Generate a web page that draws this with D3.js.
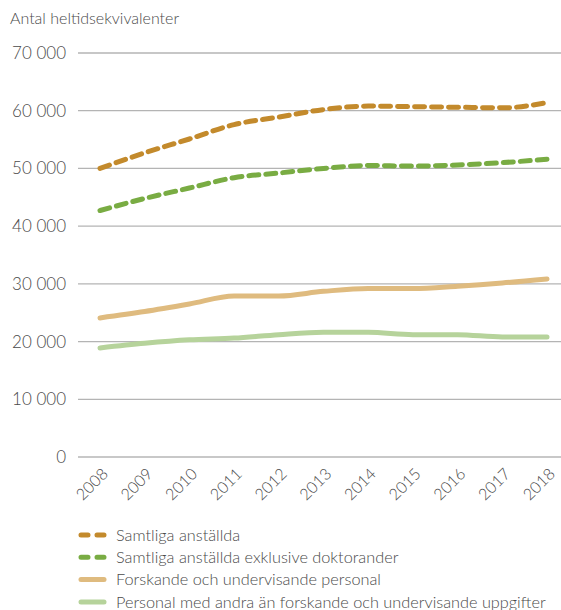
<!DOCTYPE html>
<html>
<head>
<meta charset="utf-8">
<title>Antal heltidsekvivalenter</title>
<script src="https://d3js.org/d3.v7.min.js"></script>
<style>
body { margin: 0; background: #fff; }
svg text { font-family: Lato, "Open Sans", sans-serif; font-weight: 300; fill: #4a4a4a; }
.grid line { stroke: #b4b4b4; stroke-width: 1.3px; }
</style>
</head>
<body>
<svg width="561" height="610"></svg>
<script>
// data
var years = [2008, 2009, 2010, 2011, 2012, 2013, 2014, 2015, 2016, 2017, 2018];
var samtliga   = [50000, 52700, 55100, 57600, 58900, 60200, 60800, 60700, 60600, 60500, 61400];
var exklDokt   = [42700, 44800, 46600, 48400, 49200, 50000, 50500, 50400, 50600, 51000, 51600];
var forskande  = [24100, 25200, 26500, 27900, 27900, 28700, 29200, 29200, 29600, 30150, 30850];
var ovriga     = [18900, 19700, 20300, 20600, 21200, 21600, 21600, 21200, 21200, 20800, 20800];
var yTicks = [0, 10000, 20000, 30000, 40000, 50000, 60000, 70000];

var series = [
  {name: "Samtliga anställda", values: samtliga, color: "#c38a2c", dash: true},
  {name: "Samtliga anställda exklusive doktorander", values: exklDokt, color: "#79ac43", dash: true},
  {name: "Forskande och undervisande personal", values: forskande, color: "#dfbb7f", dash: false},
  {name: "Personal med andra än forskande och undervisande uppgifter", values: ovriga, color: "#b6d39b", dash: false}
];

var svg = d3.select("svg");
var plotLeft = 78, plotRight = 561, plotTop = 53, plotBottom = 457;

var x = d3.scalePoint().domain(years).range([100, 547]);
var y = d3.scaleLinear().domain([0, 70000]).range([plotBottom, plotTop]);

var fmt = function(d) { return d3.format(",")(d).replace(/,/g, " "); };

// title
svg.append("text")
  .attr("x", 10).attr("y", 24)
  .style("font-size", "16px")
  .text("Antal heltidsekvivalenter");

// grid
var grid = svg.append("g").attr("class", "grid");
grid.selectAll("line").data(yTicks).enter().append("line")
  .attr("x1", plotLeft).attr("x2", plotRight)
  .attr("y1", function(d) { return y(d); })
  .attr("y2", function(d) { return y(d); })
  .style("stroke", function(d) { return d === 0 ? "#c8c8c8" : null; })
  .style("stroke-width", function(d) { return d === 0 ? 2 : null; });

// y labels
svg.append("g").selectAll("text").data(yTicks).enter().append("text")
  .attr("x", 66)
  .attr("y", function(d) { return y(d); })
  .attr("dy", "0.35em")
  .attr("text-anchor", "end")
  .style("font-size", "17px")
  .text(fmt);

// x labels
svg.append("g").selectAll("text").data(years).enter().append("text")
  .attr("transform", function(d) { return "translate(" + (x(d) + 5) + "," + 471 + ") rotate(-45)"; })
  .attr("text-anchor", "end")
  .attr("dy", "0.35em")
  .style("font-size", "16px")
  .text(function(d) { return d; });

// lines
var line = d3.line()
  .x(function(d, i) { return x(years[i]); })
  .y(function(d) { return y(d); })
  .curve(d3.curveMonotoneX);

svg.append("g").selectAll("path").data(series).enter().append("path")
  .attr("fill", "none")
  .attr("stroke", function(d) { return d.color; })
  .attr("stroke-width", 5)
  .attr("stroke-linecap", "round")
  .attr("stroke-linejoin", "round")
  .attr("stroke-dasharray", function(d) { return d.dash ? "10,7" : null; })
  .attr("d", function(d) { return line(d.values); });

// legend
var leg = svg.append("g").selectAll("g").data(series).enter().append("g")
  .attr("transform", function(d, i) { return "translate(0," + (535 + i * 22.3) + ")"; });

leg.append("line")
  .attr("x1", 81).attr("x2", 104)
  .attr("stroke", function(d) { return d.color; })
  .attr("stroke-width", 5)
  .attr("stroke-linecap", "round")
  .attr("stroke-dasharray", function(d) { return d.dash ? "7,9" : null; });

leg.append("text")
  .attr("x", 116)
  .attr("dy", "0.35em")
  .style("font-size", "16.3px")
  .text(function(d) { return d.name; });
</script>
</body>
</html>
